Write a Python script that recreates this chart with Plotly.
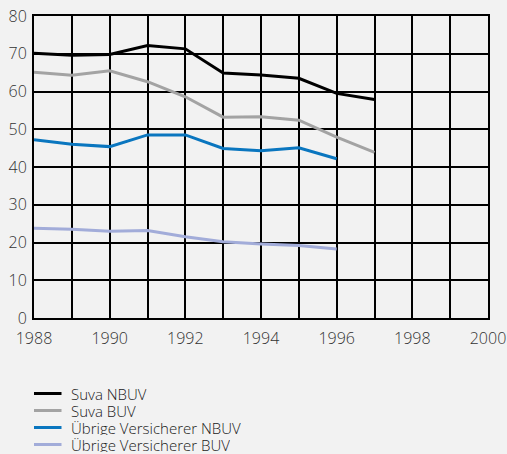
import plotly.graph_objects as go

years = [1988, 1989, 1990, 1991, 1992, 1993, 1994, 1995, 1996, 1997]
suva_nbuv = [70.1, 69.6, 69.8, 72.2, 71.3, 64.9, 64.4, 63.5, 59.5, 57.9]
suva_buv = [65.1, 64.3, 65.5, 62.6, 58.6, 53.2, 53.3, 52.4, 47.9, 43.9]
uebrige_nbuv = [47.2, 46.0, 45.4, 48.5, 48.5, 44.9, 44.3, 45.1, 42.2]
uebrige_buv = [23.8, 23.5, 23.0, 23.2, 21.5, 20.2, 19.6, 19.2, 18.3]
x_ticks = [1988, 1990, 1992, 1994, 1996, 1998, 2000]
y_ticks = [0, 10, 20, 30, 40, 50, 60, 70, 80]

series = [
    ("Suva NBUV", years, suva_nbuv, "#000000"),
    ("Suva BUV", years, suva_buv, "#a3a3a3"),
    ("Übrige Versicherer NBUV", years[:len(uebrige_nbuv)], uebrige_nbuv, "#0a76bf"),
    ("Übrige Versicherer BUV", years[:len(uebrige_buv)], uebrige_buv, "#a2acd9"),
]

W, H = 507, 454
ML, MR, MT, MB = 34, 19, 16, 136
PW, PH = W - ML - MR, H - MT - MB
FONT = "Open Sans, Liberation Sans, sans-serif"

fig = go.Figure()
for name, xs, ys, col in series:
    fig.add_trace(go.Scatter(x=xs, y=ys, name=name, mode="lines",
                             line=dict(color=col, width=3), showlegend=False))

# legend drawn below the plot (paper coordinates)
for i, (name, xs, ys, col) in enumerate(series):
    ypx = 393.5 + i * 17.0
    yp = (H - MB - ypx) / PH
    fig.add_shape(type="line", xref="paper", yref="paper",
                  x0=0, x1=27.5 / PW, y0=yp, y1=yp,
                  line=dict(color=col, width=3))
    fig.add_annotation(xref="paper", yref="paper", x=35.5 / PW, y=yp,
                       xanchor="left", yanchor="middle", showarrow=False,
                       height=15, borderpad=0,
                       text=name, font=dict(family=FONT, size=15, color="#1a1a1a", weight=300))

fig.update_layout(
    width=W, height=H,
    paper_bgcolor="#f2f2f2", plot_bgcolor="#f2f2f2",
    margin=dict(l=ML, r=MR, t=MT, b=MB),
    font=dict(family=FONT, size=16, color="#333333", weight=300),
    showlegend=False,
)
fig.update_xaxes(range=[1988, 2000], tickvals=x_ticks, showgrid=True,
                 gridcolor="#000000", gridwidth=2,
                 minor=dict(dtick=1, showgrid=True, gridcolor="#000000", gridwidth=2),
                 showline=True, linecolor="#000000", linewidth=2, mirror=True,
                 zeroline=False, ticks="", automargin=False, ticklabelstandoff=5,
                 tickfont=dict(size=16, weight=300))
fig.update_yaxes(range=[0, 80], tickvals=y_ticks, showgrid=True,
                 gridcolor="#000000", gridwidth=2,
                 showline=True, linecolor="#000000", linewidth=2, mirror=True,
                 zeroline=False, ticks="", automargin=False, ticklabelstandoff=2,
                 tickfont=dict(size=16, weight=300))

fig.write_html("out.html", config={"displayModeBar": False},
               post_script="document.body.style.margin='0';")
